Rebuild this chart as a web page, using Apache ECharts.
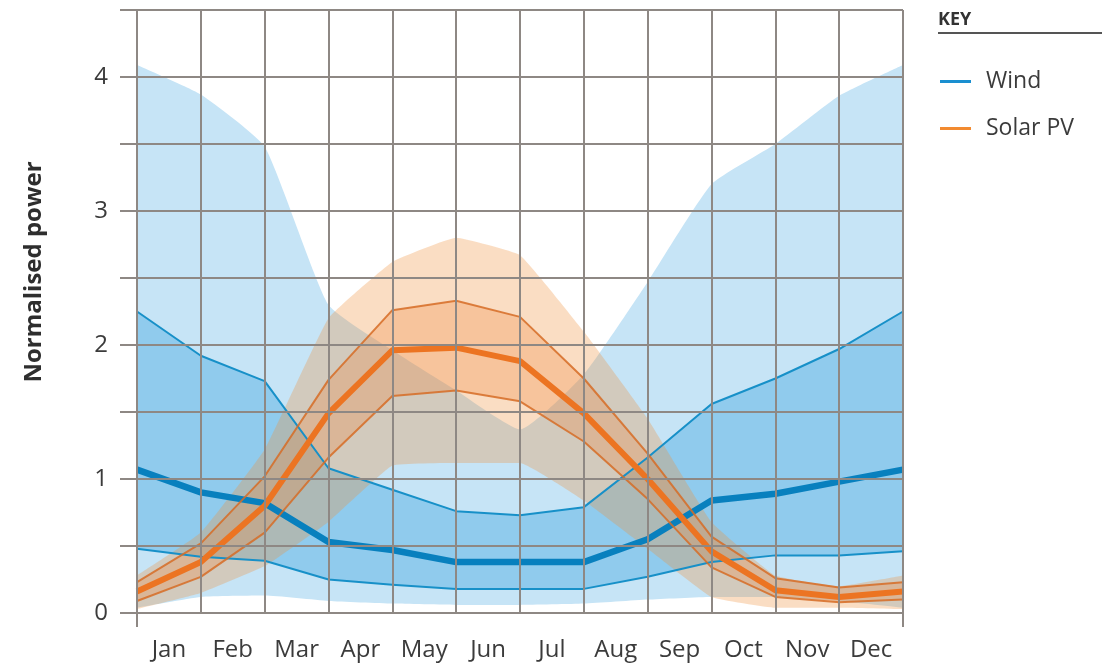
<!DOCTYPE html>
<html>
<head>
<meta charset="utf-8">
<script src="https://cdn.jsdelivr.net/npm/echarts@6/dist/echarts.min.js"></script>
<style>
  html, body { margin: 0; padding: 0; background: #ffffff; }
  #chart { width: 1102px; height: 664px; }
</style>
</head>
<body>
<div id="chart"></div>
<script>
// Month labels shown under the grid
const months = ['Jan', 'Feb', 'Mar', 'Apr', 'May', 'Jun', 'Jul', 'Aug', 'Sep', 'Oct', 'Nov', 'Dec'];
// Sample points: the start of each month, plus the end of the year
const samplePoints = ['1 Jan', '1 Feb', '1 Mar', '1 Apr', '1 May', '1 Jun', '1 Jul', '1 Aug', '1 Sep', '1 Oct', '1 Nov', '1 Dec', '31 Dec'];
const yTickLabels = ['0', '1', '2', '3', '4'];

// Wind: outer range, inter-quartile range and median
const windHigh   = [4.09, 3.87, 3.48, 2.30, 1.96, 1.66, 1.37, 1.78, 2.47, 3.20, 3.50, 3.86, 4.09];
const windLow    = [0.04, 0.12, 0.13, 0.09, 0.07, 0.06, 0.06, 0.07, 0.10, 0.12, 0.12, 0.09, 0.04];
const windQ3     = [2.25, 1.92, 1.73, 1.08, 0.92, 0.76, 0.73, 0.79, 1.16, 1.56, 1.75, 1.97, 2.25];
const windMedian = [1.07, 0.90, 0.82, 0.53, 0.47, 0.38, 0.38, 0.38, 0.55, 0.84, 0.89, 0.98, 1.07];
const windQ1     = [0.48, 0.42, 0.39, 0.25, 0.21, 0.18, 0.18, 0.18, 0.27, 0.38, 0.43, 0.43, 0.46];

// Solar PV: outer range, inter-quartile range and median
const solarHigh   = [0.28, 0.60, 1.22, 2.20, 2.62, 2.80, 2.67, 2.10, 1.45, 0.68, 0.28, 0.20, 0.28];
const solarLow    = [0.03, 0.15, 0.35, 0.68, 1.10, 1.12, 1.12, 0.84, 0.48, 0.12, 0.04, 0.04, 0.03];
const solarQ3     = [0.23, 0.52, 1.02, 1.74, 2.26, 2.33, 2.21, 1.75, 1.19, 0.57, 0.26, 0.19, 0.23];
const solarMedian = [0.16, 0.38, 0.80, 1.49, 1.96, 1.98, 1.88, 1.49, 1.00, 0.46, 0.17, 0.12, 0.16];
const solarQ1     = [0.09, 0.27, 0.60, 1.16, 1.62, 1.66, 1.58, 1.28, 0.85, 0.34, 0.12, 0.08, 0.10];

const FONT = '"Open Sans", "Liberation Sans", sans-serif';
const GRID_COLOR = '#8e8884';
const TEXT_COLOR = '#3b3b3b';

// A filled band between two series, built as a hidden base plus a stacked difference
function band(id, low, high, color, smooth) {
  return [
    {
      type: 'line', name: id + '-base', stack: id, data: low,
      symbol: 'none', smooth: smooth, silent: true,
      lineStyle: { opacity: 0 }, z: 2
    },
    {
      type: 'line', name: id + '-fill', stack: id,
      data: high.map((v, i) => +(v - low[i]).toFixed(3)),
      symbol: 'none', smooth: smooth, silent: true,
      lineStyle: { opacity: 0 }, areaStyle: { color: color, opacity: 1 }, z: 2
    }
  ];
}

function line(name, values, color, width) {
  return {
    type: 'line', name: name, data: values, symbol: 'none', silent: true,
    lineStyle: { color: color, width: width, join: 'round' },
    itemStyle: { color: color }, z: 3
  };
}

const WIND_THIN = '#1790c8';
const WIND_THICK = '#0880be';
const SOLAR_THIN = 'rgba(214,108,38,0.85)';
const SOLAR_THICK = '#ec7422';

const series = [
  ...band('windOuter', windLow, windHigh, '#c6e4f6', 0.15),
  ...band('windInner', windQ1, windQ3, '#90cbed', false),
  line('windQ1', windQ1, WIND_THIN, 2),
  line('windQ3', windQ3, WIND_THIN, 2),
  line('Wind', windMedian, WIND_THICK, 6.5),
  ...band('solarOuter', solarLow, solarHigh, 'rgba(240,146,60,0.31)', 0.1),
  ...band('solarInner', solarQ1, solarQ3, 'rgba(240,130,50,0.27)', false),
  line('solarQ1', solarQ1, SOLAR_THIN, 2),
  line('solarQ3', solarQ3, SOLAR_THIN, 2),
  line('Solar PV', solarMedian, SOLAR_THICK, 6)
];

const chart = echarts.init(document.getElementById('chart'), null, { renderer: 'canvas' });
chart.setOption({
  animation: false,
  backgroundColor: '#ffffff',
  textStyle: { fontFamily: FONT },
  grid: { left: 137, right: 199, top: 10, bottom: 51, containLabel: false },
  title: {
    text: 'KEY', left: 938, top: 11, padding: 0,
    textStyle: { fontFamily: FONT, fontSize: 18, fontWeight: 'bold', color: '#333333' }
  },
  legend: {
    orient: 'vertical', left: 940, top: 70, padding: 0,
    itemWidth: 31, itemHeight: 3, itemGap: 24, selectedMode: false,
    data: [
      { name: 'Wind', icon: 'rect', itemStyle: { color: '#1a8fd0' } },
      { name: 'Solar PV', icon: 'rect', itemStyle: { color: '#f28a30' } }
    ],
    textStyle: { fontFamily: FONT, fontSize: 23, color: TEXT_COLOR, padding: [0, 0, 0, 10] }
  },
  graphic: [
    {
      type: 'line', silent: true,
      shape: { x1: 938, y1: 33, x2: 1102, y2: 33 },
      style: { stroke: '#555555', lineWidth: 2 }
    },
    {
      type: 'text', silent: true, x: 34, y: 272, rotation: Math.PI / 2,
      style: {
        text: 'Normalised power', fill: '#2e2e2e',
        font: 'bold 24px ' + FONT, textAlign: 'center', textVerticalAlign: 'middle'
      }
    }
  ],
  xAxis: [
    {
      type: 'category', data: samplePoints, boundaryGap: false, z: 10,
      axisLine: { show: false }, axisTick: { show: false }, axisLabel: { show: false },
      splitLine: { show: true, lineStyle: { color: GRID_COLOR, width: 2 } }
    },
    {
      type: 'category', data: months, boundaryGap: true, position: 'bottom', z: 10,
      axisLine: { show: false },
      axisTick: {
        show: true, length: 14, interval: (i) => i === 0,
        lineStyle: { color: GRID_COLOR, width: 2 }
      },
      axisLabel: { fontFamily: FONT, fontSize: 24, color: TEXT_COLOR, margin: 25 },
      splitLine: { show: false }
    }
  ],
  yAxis: {
    type: 'value', min: 0, max: 4.5, interval: 0.5, z: 10,
    axisLine: { show: false },
    axisTick: { show: true, length: 17, lineStyle: { color: GRID_COLOR, width: 2 } },
    splitLine: { show: true, lineStyle: { color: GRID_COLOR, width: 2 } },
    axisLabel: {
      fontFamily: FONT, fontSize: 24, color: TEXT_COLOR, margin: 29,
      formatter: (v) => {
        const i = yTickLabels.indexOf(String(v));
        return i >= 0 ? yTickLabels[i] : '';
      }
    }
  },
  series: series
});
</script>
</body>
</html>
